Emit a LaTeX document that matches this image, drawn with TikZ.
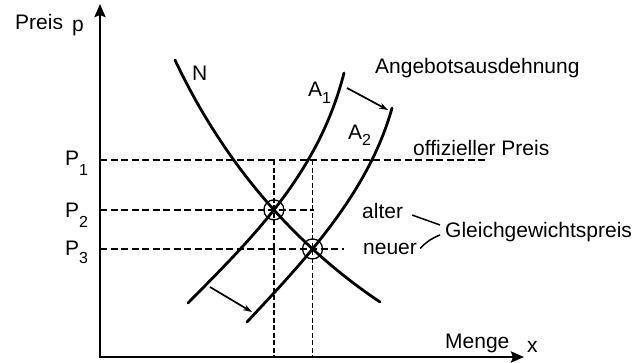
\documentclass[tikz,border=0pt]{standalone}
\usepackage{fontspec}
\setmainfont{Liberation Sans}
\usetikzlibrary{arrows.meta,intersections}
\begin{document}
\begin{tikzpicture}[x=1pt,y=-1pt,
  lbl/.style={inner sep=0pt, anchor=base west, font=\fontsize{21}{24}\selectfont},
  axis/.style={line width=2.5pt, -{Stealth[length=13pt,width=11pt,inset=2pt]}},
  curve/.style={line width=2.8pt, line cap=round},
  guide/.style={line width=1.8pt, dash pattern=on 7pt off 3.5pt},
  vguide/.style={line width=1.7pt, dash pattern=on 5pt off 2.5pt},
  shiftarrow/.style={line width=1.7pt, -{Stealth[length=9pt,width=6pt]}},
  markcirc/.style={circle, draw, line width=1.3pt, minimum size=20pt, inner sep=0pt},
  tie/.style={line width=1.5pt}
]
\newcommand{\subnum}[2]{\raisebox{-#1pt}{\fontsize{16}{18}\selectfont #2}}
\useasboundingbox (0,0) rectangle (644,362);

% axes
\coordinate (O) at (100,357);
\coordinate (ytip) at (100,4);
\coordinate (xtip) at (524,357);
\coordinate (Oc) at (98.75,357);
\draw[axis] (O) -- (ytip);
\draw[axis] (Oc) -- (xtip);

% curves
\draw[curve, name path=N] (175,60) .. controls (215,145) and (280,235) .. (380,302);
\draw[curve, name path=A1] (188,303) .. controls (250,240) and (318,175) .. (344,73);
\draw[curve, name path=A2] (247,322) .. controls (300,265) and (368,195) .. (392,108);

\path[name intersections={of=N and A1, by=E1}];
\path[name intersections={of=N and A2, by=E2}];

% guide lines
\coordinate (p1a) at (100,160); \coordinate (p1b) at (487,160);
\coordinate (p2a) at (O |- E1); \coordinate (p2b) at ([xshift=1pt]E2 |- E1);
\coordinate (p3a) at (O |- E2); \coordinate (p3b) at ([xshift=31pt]E2);
\coordinate (v1t) at (E1 |- p1a); \coordinate (v1b) at (E1 |- O);
\coordinate (v2t) at (E2 |- p1a); \coordinate (v2b) at (E2 |- O);
\draw[guide] (p1a) -- (p1b);
\draw[guide] (p2a) -- (p2b);
\draw[guide] (p3a) -- (p3b);
\draw[vguide] (v1t) -- (v1b);
\draw[vguide] (v2t) -- (v2b);

% equilibrium marks
\node[markcirc] (e1) at (E1) {};
\node[markcirc] (e2) at (E2) {};

% shift arrows
\coordinate (s1a) at (347,88);  \coordinate (s1b) at (388,110);
\coordinate (s2a) at (210,287); \coordinate (s2b) at (252,312);
\draw[shiftarrow] (s1a) -- (s1b);
\draw[shiftarrow] (s2a) -- (s2b);

% labels
\node[lbl] (preis) at (15,29) {Preis};
\node[lbl] (pp) at (72,31) {p};
\node[lbl] (nlab) at (192,80) {N};
\node[lbl] (a1) at (308,96) {A\subnum{7}{1}};
\node[lbl] (a2) at (348,139) {A\subnum{6}{2}};
\node[lbl] (P1) at (65,165) {P\subnum{10}{1}};
\node[lbl] (P2) at (65,217) {P\subnum{10}{2}};
\node[lbl] (P3) at (65,255) {P\subnum{8}{3}};
\node[lbl] (ang) at (375,73) {Angebotsausdehnung};
\node[lbl] (off) at (413,155) {offizieller Preis};
\node[lbl] (alter) at (362,218) {alter};
\node[lbl] (neuer) at (363,254) {neuer};
\node[lbl] (gleich) at (445,237) {Gleichgewichtspreis};
\node[lbl] (menge) at (445,348) {Menge};
\node[lbl] (xlab) at (527,352) {x};

% ties
\draw[tie] ([xshift=9pt,yshift=-4.6pt]alter.east) -- ([xshift=-5pt,yshift=6.6pt]gleich.west);
\draw[tie] ([xshift=3pt]neuer.east) to[bend left=12] ([xshift=-5pt,yshift=-3.4pt]gleich.west);
\end{tikzpicture}
\end{document}
